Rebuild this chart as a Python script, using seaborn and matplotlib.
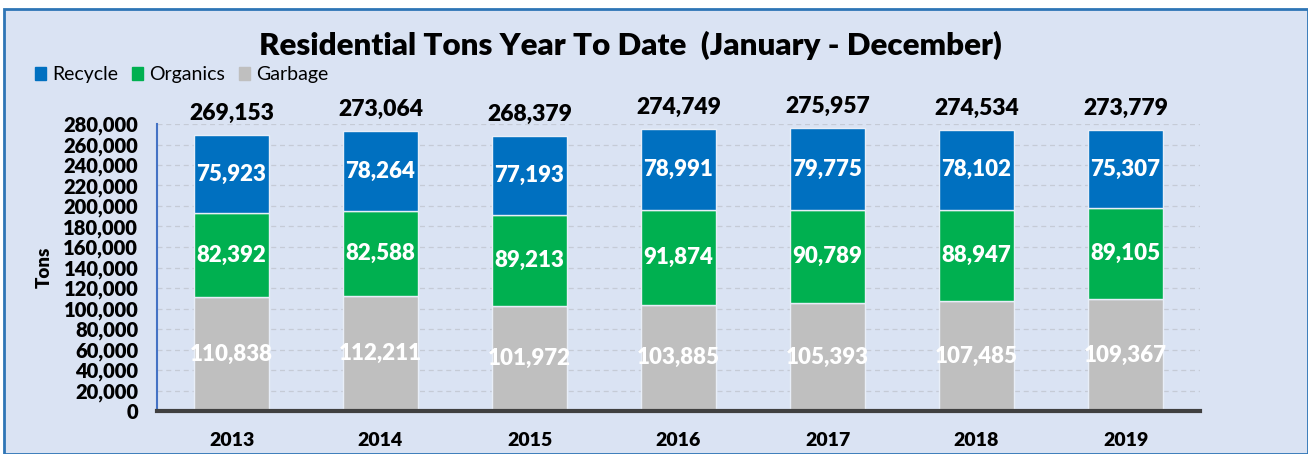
import numpy as np
import matplotlib
matplotlib.use("Agg")
import matplotlib.pyplot as plt
import seaborn as sns
from matplotlib.patches import Patch, Rectangle

years = ["2013", "2014", "2015", "2016", "2017", "2018", "2019"]
garbage = [110838, 112211, 101972, 103885, 105393, 107485, 109367]
organics = [82392, 82588, 89213, 91874, 90789, 88947, 89105]
recycle = [75923, 78264, 77193, 78991, 79775, 78102, 75307]
totals = [269153, 273064, 268379, 274749, 275957, 274534, 273779]

C_REC = "#0070C0"
C_ORG = "#00B050"
C_GAR = "#BFBFBF"
BG = "#DAE3F3"
W = "heavy"

sns.set_theme(style="white")
plt.rcParams["font.family"] = ["Lato", "DejaVu Sans"]
plt.rcParams["text.color"] = "black"

fig = plt.figure(figsize=(13.08, 4.54), dpi=100)
fig.patch.set_facecolor("white")
fig.patches.append(Rectangle((4 / 1308, 0), 1 - 4 / 1308, (454 - 9) / 454,
                             transform=fig.transFigure, facecolor=BG,
                             edgecolor="#2E75B6", linewidth=2, zorder=-5))
ax = fig.add_axes([157 / 1308, 43 / 454, (1200 - 157) / 1308, (411 - 124) / 454])
ax.set_facecolor(BG)

g = np.array(garbage)
o = np.array(organics)
r = np.array(recycle)

bar_kw = dict(width=0.5, errorbar=None, saturation=1, edgecolor="#E8EEF8",
              linewidth=1, ax=ax)
sns.barplot(x=years, y=garbage, color=C_GAR, **bar_kw)
sns.barplot(x=years, y=organics, bottom=g, color=C_ORG, **bar_kw)
sns.barplot(x=years, y=recycle, bottom=g + o, color=C_REC, **bar_kw)

lbl = dict(ha="center", va="center", color="white", fontsize=16, fontweight=W)
for i in range(len(years)):
    ax.text(i, g[i] / 2, f"{g[i]:,}", **lbl)
    ax.text(i, g[i] + o[i] / 2, f"{o[i]:,}", **lbl)
    ax.text(i, g[i] + o[i] + r[i] / 2, f"{r[i]:,}", **lbl)
    ax.annotate(f"{totals[i]:,}", (i, g[i] + o[i] + r[i]), xytext=(0, 8),
                textcoords="offset points", ha="center", va="bottom",
                fontsize=16.5, fontweight=W, color="black", annotation_clip=False)

ax.set_ylim(0, 280000)
ax.set_xlim(-0.5, 6.5)
ax.set_yticks(np.arange(0, 280001, 20000))
ax.set_yticklabels([f"{v:,}" for v in range(0, 280001, 20000)])
ax.yaxis.grid(True, linestyle=(0, (4, 3)), color="#C5CBD6", linewidth=0.9)
ax.set_axisbelow(True)
for s in ["top", "right"]:
    ax.spines[s].set_visible(False)
ax.spines["left"].set_color("#4472C4")
ax.spines["left"].set_linewidth(1.5)
ax.spines["bottom"].set_color("#404040")
ax.spines["bottom"].set_linewidth(3)
ax.tick_params(axis="y", length=4.5, width=1.5, color="#4472C4", labelsize=14.5, pad=9,
               labelcolor="black")
ax.tick_params(axis="x", length=0, labelsize=14, pad=15, labelcolor="black")
for t in ax.get_yticklabels() + ax.get_xticklabels():
    t.set_fontweight(W)
ax.set_ylabel("Tons", fontsize=13.5, fontweight=W, labelpad=8, color="black")

fig.text(0.482, 0.9, "Residential Tons Year To Date  (January - December)",
         ha="center", va="center", fontsize=22.5, fontweight=W, color="black")

handles = [Patch(color=C_REC), Patch(color=C_ORG), Patch(color=C_GAR)]
leg = fig.legend(handles, ["Recycle", "Organics", "Garbage"], loc="center left",
                 bbox_to_anchor=(0.013, 0.835), ncol=3, frameon=False, fontsize=14,
                 handlelength=0.6, handleheight=0.6, handletextpad=0.3, columnspacing=0.7)
for t in leg.get_texts():
    t.set_color("black")

fig.savefig("out.png", dpi=100)
